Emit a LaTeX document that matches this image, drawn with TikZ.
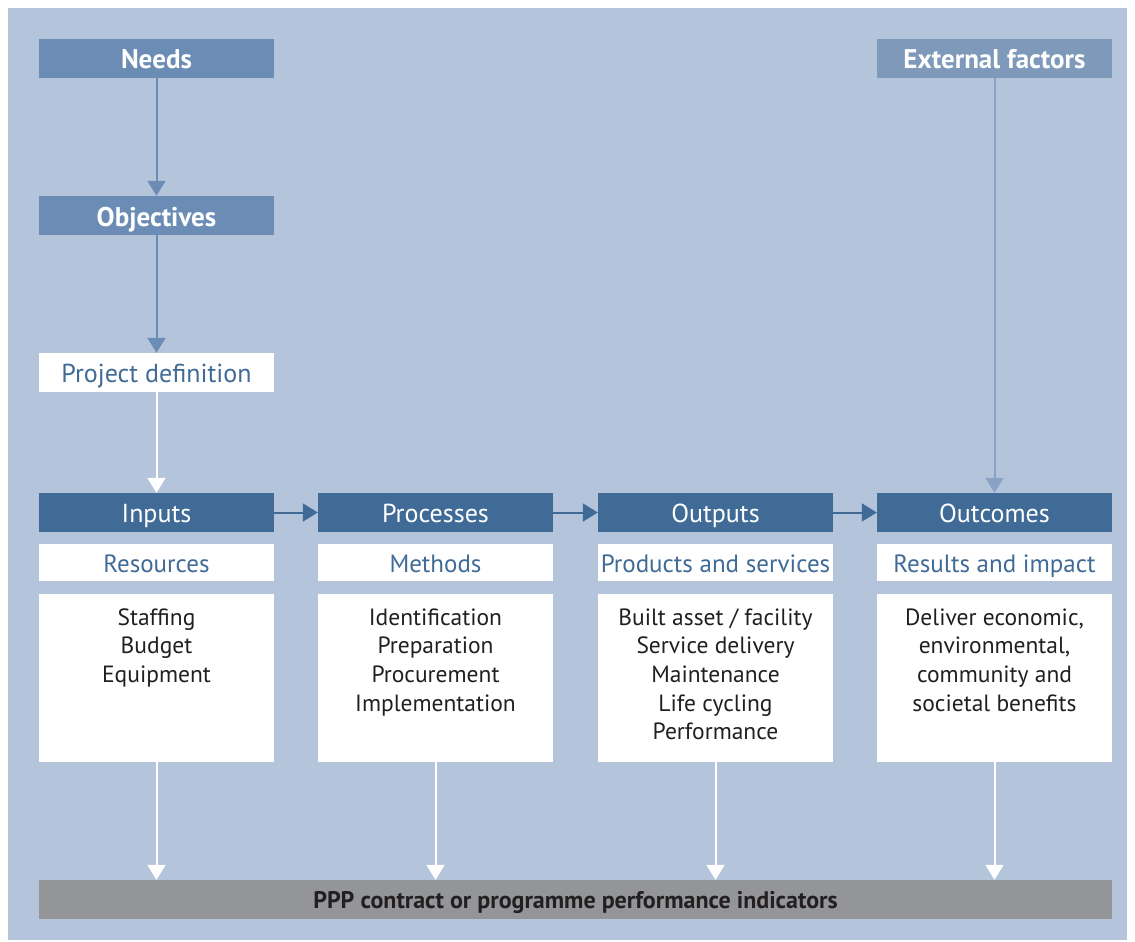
\documentclass[tikz,border=0pt]{standalone}
\usepackage{fontspec}
\setmainfont{PT Sans}
\usetikzlibrary{arrows.meta}
\definecolor{bgblue}{HTML}{B4C4DA}
\definecolor{midblue}{HTML}{6B8DB5}
\definecolor{extblue}{HTML}{7E99BA}
\definecolor{extline}{HTML}{8AA3C4}
\definecolor{darkblue}{HTML}{416B97}
\definecolor{bargray}{HTML}{939598}
\definecolor{inkdark}{HTML}{231F20}
\newcommand{\boxlines}[1]{\parbox[c][168pt][t]{235pt}{\centering\rule{0pt}{31pt}#1}}
\begin{document}
\begin{tikzpicture}[x=1pt,y=-1pt]
    \tikzstyle{topbox}=[minimum width=235pt,minimum height=39pt,inner sep=0pt,text height=21pt,text depth=0pt,fill=midblue,text=white,font=\fontsize{27}{30}\selectfont\bfseries]
    \tikzstyle{defbox}=[minimum width=235pt,minimum height=39pt,inner sep=0pt,text height=20pt,text depth=0pt,fill=white,text=darkblue,font=\fontsize{26}{30}\selectfont]
    \tikzstyle{head}=[minimum width=235pt,minimum height=39pt,inner sep=0pt,text height=20pt,text depth=0pt,fill=darkblue,text=white,font=\fontsize{26}{30}\selectfont]
    \tikzstyle{sub}=[minimum width=235pt,minimum height=37pt,inner sep=0pt,text height=19pt,text depth=0pt,fill=white,text=darkblue,font=\fontsize{25}{30}\selectfont]
    \tikzstyle{content}=[inner sep=0pt,fill=white,text=inkdark,font=\fontsize{23.5}{28.7}\selectfont]
    \tikzstyle{link}=[line width=2pt,-{Triangle[width=18pt,length=15pt]}]
    \useasboundingbox (0,0) rectangle (1135,942);
    \fill[bgblue] (8,8) rectangle (1127,940);
    % left chain
    \node[topbox] (needs) at (156.5,58.5) {Needs};
    \node[topbox] (objectives) at (156.5,215.5) {Objectives};
    \node[defbox] (projdef) at (156.5,372.5) {Project definition};
    \node[topbox,fill=extblue] (external) at (994.5,58.5) {External factors};
    % main row
    \node[head] (inputs) at (156.5,512.5) {Inputs};
    \node[head] (processes) at (435.5,512.5) {Processes};
    \node[head] (outputs) at (715.5,512.5) {Outputs};
    \node[head] (outcomes) at (994.5,512.5) {Outcomes};
    \node[sub] (resources) at (156.5,562.5) {Resources};
    \node[sub] (methods) at (435.5,562.5) {Methods};
    \node[sub] (products) at (715.5,562.5) {Products and services};
    \node[sub] (results) at (994.5,562.5) {Results and impact};
    \node[content] (incont) at (156.5,678) {\boxlines{Staffing\\Budget\\Equipment}};
    \node[content] (proccont) at (435.5,678) {\boxlines{Identification\\Preparation\\Procurement\\Implementation}};
    \node[content] (outcont) at (715.5,678) {\boxlines{Built asset / facility\\Service delivery\\Maintenance\\Life cycling\\Performance}};
    \node[content] (rescont) at (994.5,678) {\boxlines{Deliver economic,\\environmental,\\community and\\societal benefits}};
    % indicators
    \node[minimum width=1073pt,minimum height=39pt,inner sep=0pt,text height=17pt,text depth=0pt,fill=bargray,text=inkdark,font=\fontsize{24}{28}\selectfont\bfseries] (indicators) at (575.5,899.5) {PPP contract or programme performance indicators};
    % arrows
    \draw[link,midblue] (needs) -- (objectives);
    \draw[link,midblue] (objectives) -- (projdef);
    \draw[link,white] (projdef) -- (inputs);
    \draw[link,extline] (external) -- (outcomes);
    \draw[link,darkblue] (inputs) -- (processes);
    \draw[link,darkblue] (processes) -- (outputs);
    \draw[link,darkblue] (outputs) -- (outcomes);
    \draw[link,white] (incont.south) -- (incont.south |- indicators.north);
    \draw[link,white] (proccont.south) -- (proccont.south |- indicators.north);
    \draw[link,white] (outcont.south) -- (outcont.south |- indicators.north);
    \draw[link,white] (rescont.south) -- (rescont.south |- indicators.north);
\end{tikzpicture}
\end{document}
